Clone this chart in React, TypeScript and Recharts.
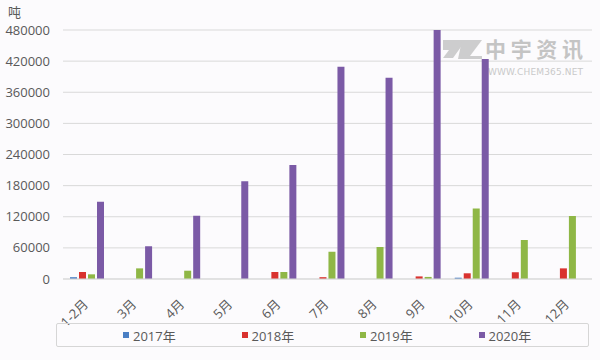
import {
  Bar,
  BarChart,
  CartesianGrid,
  Customized,
  Legend,
  XAxis,
  YAxis,
} from "recharts";

const months = ["1-2月", "3月", "4月", "5月", "6月", "7月", "8月", "9月", "10月", "11月", "12月"];
const y2017 = [3500, 0, 0, 0, 0, 0, 0, 0, 2500, 0, 0];
const y2018 = [13500, 0, 0, 0, 13500, 3500, 0, 5000, 11000, 13000, 20500];
const y2019 = [9000, 20500, 16000, 0, 13500, 52500, 61500, 4000, 136000, 75000, 121500];
const y2020 = [149000, 63000, 122000, 188500, 220000, 409000, 388000, 481000, 424000, 0, 0];
const yTicks = [0, 60000, 120000, 180000, 240000, 300000, 360000, 420000, 480000];

const series = [
  { key: "y2017", name: "2017年", color: "#4a7fc4" },
  { key: "y2018", name: "2018年", color: "#d9322f" },
  { key: "y2019", name: "2019年", color: "#8fb746" },
  { key: "y2020", name: "2020年", color: "#7b5aa6" },
];

const data = months.map((m, i) => ({
  month: m,
  y2017: y2017[i],
  y2018: y2018[i],
  y2019: y2019[i],
  y2020: y2020[i],
}));

const FONT = '"Open Sans", "Noto Sans CJK SC", sans-serif';
const TEXT = "#595959";

const MonthTick = (props: any) => {
  const { x, y, payload } = props;
  return (
    <g transform={`translate(${x + 2},${y + 18})`}>
      <text
        x={0}
        y={0}
        textAnchor="end"
        transform="rotate(-45)"
        fill={TEXT}
        fontSize={13}
        fontFamily={FONT}
      >
        {payload.value}
      </text>
    </g>
  );
};

const LegendBox = () => (
  <div
    style={{
      width: 531,
      height: 22,
      border: "1px solid #d6d6d6",
      borderRadius: 2,
      position: "relative",
      fontFamily: FONT,
      fontSize: 13,
      color: TEXT,
    }}
  >
    {series.map((s, i) => (
      <div
        key={s.key}
        style={{
          position: "absolute",
          left: 66 + i * 118.5,
          top: 2,
          display: "flex",
          alignItems: "center",
          height: 18,
          whiteSpace: "nowrap",
        }}
      >
        <span style={{ width: 6, height: 6, background: s.color, marginRight: 4 }} />
        <span>{s.name}</span>
      </div>
    ))}
  </div>
);

const Extras = () => (
  <g>
    <text x={8} y={17} fill={TEXT} fontSize={13} fontFamily={FONT}>
      吨
    </text>
    {/* watermark */}
    <g fill="#c9c9c9" opacity={0.9}>
      <path d="M443 40 L466 40 L453 58 L443 58 L449 50 L443 50 Z" />
      <path d="M462 40 L482 40 L470 56 L482 56 L482 59 L458 59 Z" />
    </g>
    <text
      x={485}
      y={57}
      fill="#c4c4c4"
      fontSize={21}
      fontWeight="bold"
      fontFamily='"Noto Sans CJK SC", sans-serif'
      textLength={98}
    >
      中宇资讯
    </text>
    <text
      x={488}
      y={75}
      fill="#c9c9c9"
      fontSize={9}
      fontFamily='"DejaVu Sans", sans-serif'
      textLength={95}
    >
      WWW.CHEM365.NET
    </text>
  </g>
);

export default function App() {
  return (
    <div style={{ position: "fixed", left: 0, top: 0, background: "#fcfbfd" }}>
      <BarChart
        width={600}
        height={360}
        data={data}
        margin={{ top: 30, right: 8, bottom: 41, left: 0 }}
        barSize={7}
        barGap={2}
      >
        <CartesianGrid stroke="#d9d9d9" vertical={false} />
        <XAxis
          dataKey="month"
          axisLine={{ stroke: "#d9d9d9" }}
          tickLine={false}
          interval={0}
          height={40}
          tick={<MonthTick />}
        />
        <YAxis
          width={63}
          domain={[0, 480000]}
          ticks={yTicks}
          allowDataOverflow
          axisLine={false}
          tickLine={false}
          tickMargin={7}
          tick={{ fill: TEXT, fontSize: 13, fontFamily: FONT }}
        />
        {series.map((s) => (
          <Bar
            key={s.key}
            dataKey={s.key}
            name={s.name}
            fill={s.color}
            isAnimationActive={false}
          />
        ))}
        <Legend
          layout="horizontal"
          verticalAlign="middle"
          align="center"
          wrapperStyle={{ left: 56, top: 323, width: 533 }}
          content={<LegendBox />}
        />
        <Customized component={Extras} />
      </BarChart>
    </div>
  );
}
